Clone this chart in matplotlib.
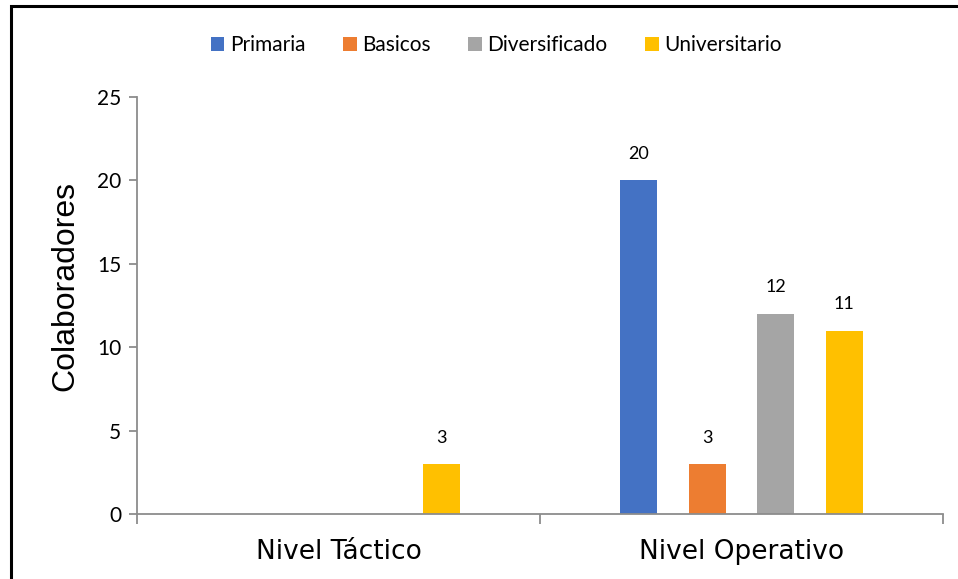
import numpy as np
import matplotlib
matplotlib.use('Agg')
import matplotlib.pyplot as plt
from matplotlib.patches import Rectangle

# datos
niveles = ['Nivel Táctico', 'Nivel Operativo']
series = ['Primaria', 'Basicos', 'Diversificado', 'Universitario']
primaria = [0, 20]
basicos = [0, 3]
diversificado = [0, 12]
universitario = [3, 11]
colores = ['#4472C4', '#ED7D31', '#A5A5A5', '#FFC000']

valores = [primaria, basicos, diversificado, universitario]
gris = '#8C8C8C'

fig = plt.figure(figsize=(9.58, 5.79), dpi=100)
ax = fig.add_axes([137/958, 1 - 514/579, (943 - 137)/958, (514 - 97)/579])

x = np.arange(len(niveles))
ancho = 0.092
paso = 0.17
for i, (nombre, vals, c) in enumerate(zip(series, valores, colores)):
    pos = x + (i - 1.5) * paso
    barras = ax.bar(pos, vals, width=ancho, color=c, label=nombre)
    for b, v in zip(barras, vals):
        if v > 0:
            ax.text(b.get_x() + b.get_width()/2, v + 1.1, str(v), ha='center', va='bottom',
                    fontsize=13, family='Lato', color='#000000')

ax.set_xlim(-0.5, 1.5)
ax.set_ylim(0, 25)
ax.set_yticks([0, 5, 10, 15, 20, 25])
ax.set_xticks(x)
ax.set_xticklabels(niveles, fontsize=19, family='DejaVu Sans')
ax.set_xticks([-0.5, 0.5, 1.5], minor=True)
ax.tick_params(axis='x', which='major', length=0, pad=18)
ax.tick_params(axis='x', which='minor', length=7, width=1.3, color=gris)
ax.tick_params(axis='y', length=6, width=1.3, color=gris, labelsize=15, pad=5.5)
for t in ax.get_yticklabels():
    t.set_family('Lato')

for s in ['top', 'right']:
    ax.spines[s].set_visible(False)
for s in ['left', 'bottom']:
    ax.spines[s].set_color(gris)
    ax.spines[s].set_linewidth(1.3)

ax.set_ylabel('Colaboradores', fontsize=23, family='Liberation Sans')
ax.yaxis.set_label_coords((80 - 137)/806, (514 - 286)/417)

fig.legend(loc='center', bbox_to_anchor=(496/958, 1 - 45/579), ncol=4, frameon=False,
           prop={'family': 'Lato', 'size': 15}, handlelength=0.67, handleheight=0.67,
           handletextpad=0.25, columnspacing=1.8)

# marco
fig.patches.append(Rectangle((11/958, -0.1), 2, 1.1 - 6/579, transform=fig.transFigure,
                             fill=False, edgecolor='black', linewidth=2.2))

fig.savefig('out.png', dpi=100)
